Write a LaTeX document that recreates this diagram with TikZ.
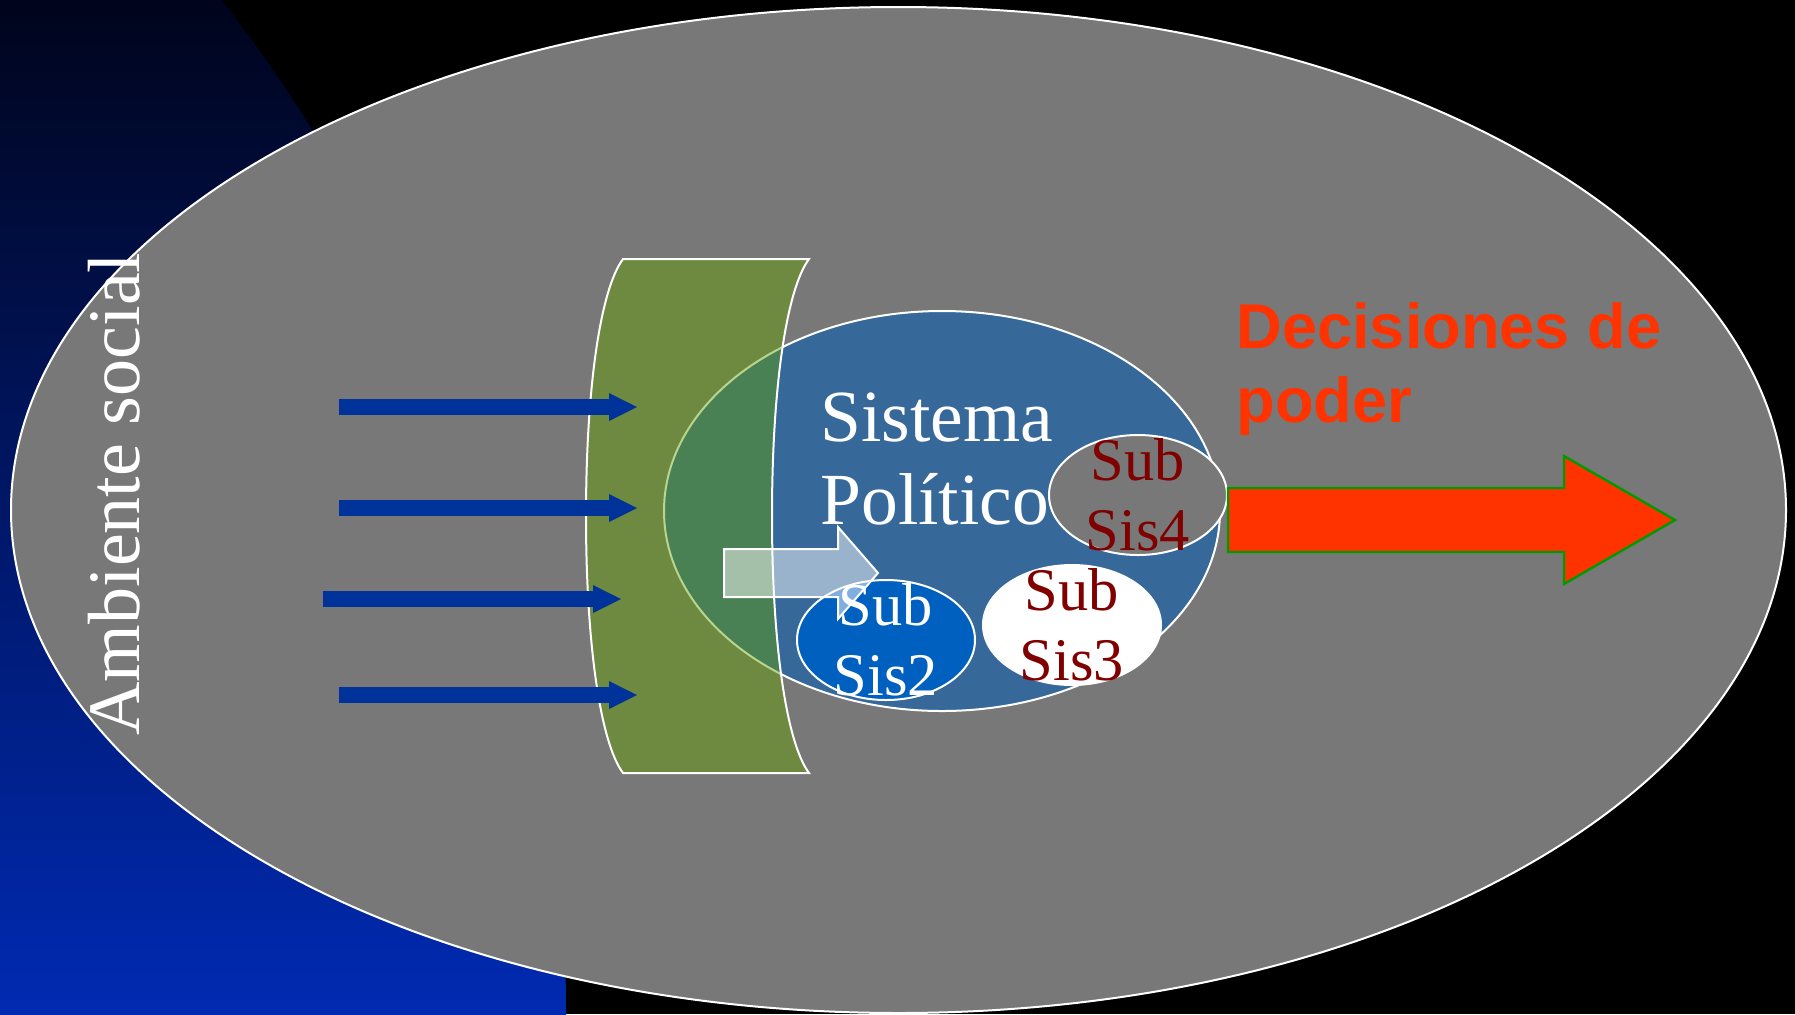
\documentclass[tikz,border=0pt]{standalone}
\usepackage{fontspec}
\setmainfont{Liberation Serif}
\newfontfamily\arialfont{Liberation Sans}
\usetikzlibrary{arrows.meta,shapes.geometric}
\definecolor{ambgray}{RGB}{120,120,120}
\definecolor{sysblue}{RGB}{54,104,154}
\definecolor{filtergreen}{RGB}{100,160,0}
\definecolor{inblue}{RGB}{0,51,153}
\definecolor{subblue}{RGB}{0,96,192}
\definecolor{subred}{RGB}{128,0,0}
\definecolor{outred}{RGB}{255,51,0}
\definecolor{outgreen}{RGB}{0,153,0}
\definecolor{navytop}{RGB}{0,4,28}
\definecolor{navybottom}{RGB}{0,42,178}
\begin{document}
\begin{tikzpicture}[
		x={(0.5pt,0pt)},
		y={(0pt,-0.5pt)},
		subsis/.style={ellipse,draw=white,line width=1pt,minimum width=89pt,minimum height=60pt,inner sep=0pt},
		subtext/.style={align=center,inner sep=0pt,font=\fontsize{30.25}{35}\selectfont},
		inarrow/.style={inblue,line width=8pt,-{Triangle[length=14pt,width=14pt,line width=0pt]}},
	]
		\useasboundingbox (0,0) rectangle (1795,1014);
		\fill[black] (0,0) rectangle (1795,1014);
		\begin{scope}
			\clip (-1100,1014) circle[radius=1666];
			\shade[top color=navytop,bottom color=navybottom] (0,0) rectangle (600,1014);
		\end{scope}
		
		\node[ellipse,fill=ambgray,draw=white,line width=1pt,minimum width=887.5pt,minimum height=503pt,inner sep=0pt] (ambiente) at (898.5,510) {};
		\node[ellipse,fill=sysblue,draw=white,line width=1pt,minimum width=278pt,minimum height=200pt,inner sep=0pt] (sistema) at (942,511) {};
		
		\draw[fill=filtergreen,fill opacity=0.45,draw=white,line width=1pt] (623,259) -- (809,259) .. controls (786,290) and (772,390) .. (772,516) .. controls (772,642) and (786,742) .. (809,773) -- (623,773) .. controls (600,742) and (586,642) .. (586,516) .. controls (586,390) and (600,290) .. cycle;
		
		\foreach \n/\y/\xs in {1/407/339, 2/508/339, 3/599/323, 4/695/339}{
			\coordinate (src\n) at (\xs,\y);
			\coordinate (dst\n) at ({\xs+298},\y);
			\draw[inarrow] (src\n) -- (dst\n);
		}
		
		\node[subsis,fill=ambgray] (sis4) at (1138,495) {};
		\node[subsis,fill=white] (sis3) at (1072,625) {};
		\node[subsis,fill=subblue] (sis2) at (886,640) {};
		
		\draw[fill=white,fill opacity=0.5,draw=white,line width=1pt] (724,549) -- (838,549) -- (838,527) -- (878,573) -- (838,619) -- (838,597) -- (724,597) -- cycle;
		
		\node[anchor=north west,inner sep=0pt,align=left,text=white,font=\fontsize{36.75}{41.5}\selectfont] (sistematext) at (820,392) {Sistema\\Político};
		\node[subtext,text=subred] (sis4text) at (sis4.center) {Sub\\Sis4};
		\node[subtext,text=subred] (sis3text) at (sis3.center) {Sub\\Sis3};
		\node[subtext,text=white] (sis2text) at (sis2.center) {Sub\\Sis2};
		\node[rotate=90,anchor=base,inner sep=0pt,text=white,font=\fontsize{37}{44}\selectfont] (ambtext) at (139,494) {Ambiente social};
		
		\draw[fill=outred,draw=outgreen,line width=1.2pt] (1228,488) -- (1564,488) -- (1564,456) -- (1675,520) -- (1564,584) -- (1564,552) -- (1228,552) -- cycle;
		\node[anchor=north west,inner sep=0pt,align=left,text=outred,font=\arialfont\bfseries\fontsize{31.6}{37}\selectfont] (decisiones) at (1236,302) {Decisiones de\\poder};
	\end{tikzpicture}
\end{document}
